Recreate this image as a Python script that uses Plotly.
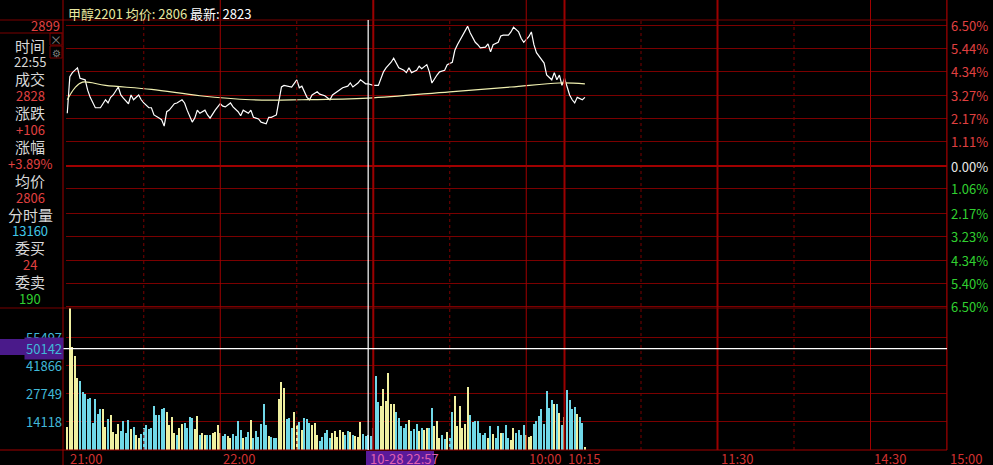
import numpy as np
import plotly.graph_objs as go

# --- data ---
# minutes since 21:00 on the trading clock (21:00-23:00, 9:00-10:15, 10:30-11:30, 13:30-15:00)
price_min = [0, 1, 2, 3, 4, 5, 7, 8, 9, 11, 13, 15, 16, 17, 18, 20, 21, 22, 24, 25, 26, 28, 29, 30,
             32, 33, 34, 36, 37, 38, 39, 40, 42, 43, 45, 46, 47, 49, 50, 51, 52, 54, 55, 56, 58, 60,
             61, 62, 64, 65, 67, 68, 69, 71, 72, 73, 75, 76, 78, 79, 80, 82, 83, 84, 85, 87, 88, 90,
             91, 92, 94, 95, 96, 98, 99, 101, 102, 103, 104, 107, 108, 110, 111, 112, 114, 115, 117,
             118, 120, 122, 124, 125, 127, 128, 129, 130, 132, 133, 134, 135, 137, 138, 139, 141,
             142, 143, 145, 146, 148, 149, 151, 152, 153, 154, 155, 156, 157, 158, 159, 160, 161,
             162, 164, 165, 166, 167, 169, 170, 171, 173, 174, 175, 177, 178, 179, 181, 182, 183,
             184, 186, 187, 188, 190, 191, 192, 193, 194, 195, 197, 198, 199, 200, 202, 203]
price = [2783, 2829, 2834, 2837, 2840, 2827, 2825, 2812, 2803, 2790, 2790, 2800, 2796, 2803, 2806,
         2816, 2806, 2802, 2795, 2806, 2800, 2806, 2800, 2796, 2790, 2790, 2781, 2777, 2775, 2767,
         2785, 2787, 2795, 2796, 2800, 2796, 2787, 2772, 2777, 2787, 2783, 2787, 2781, 2777, 2787,
         2795, 2792, 2791, 2796, 2791, 2785, 2780, 2787, 2783, 2787, 2778, 2776, 2772, 2770, 2778,
         2778, 2781, 2800, 2816, 2818, 2817, 2816, 2825, 2815, 2817, 2803, 2800, 2806, 2810, 2807,
         2805, 2802, 2800, 2806, 2812, 2815, 2817, 2821, 2816, 2821, 2825, 2820, 2820, 2818, 2818,
         2835, 2840, 2847, 2852, 2846, 2840, 2837, 2834, 2840, 2834, 2837, 2842, 2839, 2844, 2835,
         2821, 2831, 2835, 2837, 2844, 2847, 2862, 2869, 2875, 2881, 2887, 2892, 2884, 2877, 2872,
         2869, 2865, 2866, 2870, 2860, 2869, 2872, 2880, 2881, 2881, 2885, 2891, 2885, 2877, 2872,
         2879, 2885, 2869, 2859, 2850, 2846, 2831, 2825, 2834, 2825, 2831, 2818, 2827, 2806, 2800,
         2796, 2803, 2800, 2803]

avg_min = [0, 3, 6, 15, 33, 52, 72, 92, 118, 150, 174, 193, 203]
avg_price = [2800, 2815, 2822, 2818, 2813, 2805, 2800, 2800, 2802, 2810, 2816, 2821, 2820]

volume = [11400, 70300, 51000, 46500, 35600, 34000, 28700, 27700, 25200, 25700, 13400, 25200, 17800,
          20300, 20300, 11400, 15300, 17300, 8900, 7900, 12900, 9400, 14400, 8400, 14900, 10400,
          11400, 7400, 5900, 7900, 10900, 12400, 10400, 10900, 21800, 17300, 17300, 20300, 20800,
          18800, 12400, 16300, 8400, 7400, 10900, 12900, 13400, 10900, 16300, 15800, 10400, 16800,
          7400, 8400, 7400, 7400, 7400, 8400, 8900, 12400, 8400, 6900, 7900, 6900, 5900, 7900, 6900,
          14400, 9900, 5900, 6400, 8900, 14900, 5900, 9400, 6400, 12900, 22800, 12400, 6900, 6400,
          5900, 5900, 25200, 33700, 30700, 15300, 15800, 10900, 18800, 12400, 13900, 9900, 15800,
          15300, 13400, 12400, 13400, 7400, 4500, 6400, 8400, 9900,
          5900, 8400, 9400, 6400, 9900, 8900, 7400, 9400, 8900, 7400, 6900, 6400, 13900, 7900, 6900,
          7400, 6900, 10900, 36600, 23800, 21800, 30200, 24300, 38100, 22800, 22800, 18800, 15800,
          11900, 10900, 12900, 14900, 9400, 10400, 12900, 9400, 10900, 9900, 10900, 10900, 20800,
          11900, 14400, 5900, 7400, 5400, 8900, 5900, 18800, 26700, 11900, 21800, 10900, 12900,
          31200, 17300, 13900, 14400, 14400, 8400, 7400, 8400, 5900, 11900, 7900, 5900, 11900, 8400,
          8400, 12400, 5900, 4900, 10900, 8400, 9900, 7400, 12400, 7400, 6400, 6900, 12900, 14400,
          16800, 20300, 12900, 29200, 20800, 24800, 22800, 22800, 18300, 12400, 16300, 29700, 24800,
          20300, 21300, 17800, 16300, 13400, 1500]

prev_settle = 2717
pct_levels = [6.50, 5.44, 4.34, 3.27, 2.17, 1.11, 0.00, -1.06, -2.17, -3.23, -4.34, -5.40, -6.50]
vol_levels = [14118, 27749, 41866, 55497]
time_ticks = [0, 60, 180, 195, 255, 315, 345]
time_labels = ["21:00", "22:00", "10:00", "10:15", "11:30", "14:30", "15:00"]
solid_lines = [60, 120, 180, 195, 255, 315, 345]
thick_lines = [120, 195, 255]
dotted_lines = [30, 90, 150, 225, 285]
cross_min = 118
cross_vol = 50142

info_labels = ["时间", "22:55", "成交", "2828", "涨跌", "+106", "涨幅", "+3.89%",
               "均价", "2806", "分时量", "13160", "委买", "24", "委卖", "190"]
info_colors = ["#d8d8d8", "#d8d8d8", "#d8d8d8", "#e04040", "#d8d8d8", "#e04040", "#d8d8d8", "#e04040",
               "#d8d8d8", "#e04040", "#d8d8d8", "#40c8e8", "#d8d8d8", "#e04040", "#d8d8d8", "#30d030"]

# --- pixel helpers for the fixed 993x465 page ---
L, R, T, B = 66, 947, 20, 450
def px(x):
    return (x - L) / (R - L)
def py(y):
    return (B - y) / (B - T)

FONT = "Noto Sans CJK SC"
GRID = "#7a0000"

# bar colours: yellow when price clearly up that minute, cyan otherwise
mins = np.arange(len(volume))
p_at = np.interp(mins, price_min, price)
bar_colors = ["#f0f0a0" if i == 0 or p_at[i] > p_at[i - 1] + 1.5 else "#70d8e8" for i in mins]

fig = go.Figure()
fig.add_trace(go.Scatter(x=price_min, y=price, mode="lines", line=dict(color="white", width=1.2),
                         xaxis="x", yaxis="y", hoverinfo="skip"))
fig.add_trace(go.Scatter(x=avg_min, y=avg_price, mode="lines", line=dict(color="#f0f0b0", width=1.2, shape="spline"),
                         xaxis="x", yaxis="y", hoverinfo="skip"))
fig.add_trace(go.Bar(x=mins, y=volume, marker_color=bar_colors, marker_line_width=0, width=0.45,
                     xaxis="x2", yaxis="y2", hoverinfo="skip"))

price_grid = [prev_settle * (1 + p / 100) for p in pct_levels]
vol_top = (B - 308) * 495

fig.update_layout(
    width=993, height=465, margin=dict(l=L, r=993 - R, t=T, b=465 - B),
    paper_bgcolor="black", plot_bgcolor="black", showlegend=False,
    font=dict(family=FONT, color="#d8d8d8", size=13),
    xaxis=dict(range=[-0.5, 345], showgrid=False, showticklabels=False, zeroline=False, domain=[0, 1]),
    xaxis2=dict(range=[-0.5, 345], showgrid=False, showticklabels=False, zeroline=False, anchor="y2",
                matches="x"),
    yaxis=dict(range=[prev_settle - 142 * 1.253, prev_settle + 146 * 1.253], domain=[py(308), 1],
               tickvals=price_grid, showticklabels=False, gridcolor=GRID, zeroline=False),
    yaxis2=dict(range=[0, vol_top], domain=[0, py(308)], tickvals=vol_levels, showticklabels=False,
                gridcolor=GRID, zeroline=False),
    bargap=0,
)

shapes = []
for m in solid_lines:
    w = 2 if m in thick_lines else 1
    c = "#9a0000" if m in thick_lines else "#a00000"
    shapes.append(dict(type="line", xref="x", yref="paper", x0=m, x1=m, y0=0, y1=py(0), line=dict(color=c, width=w)))
for m in dotted_lines:
    shapes.append(dict(type="line", xref="x", yref="paper", x0=m, x1=m, y0=0, y1=1, line=dict(color=GRID, width=1, dash="dot")))
# zero line, panel divider, frame
shapes.append(dict(type="line", xref="paper", yref="y", x0=0, x1=1, y0=prev_settle, y1=prev_settle,
                   line=dict(color="#a00000", width=2)))
shapes.append(dict(type="line", xref="paper", yref="paper", x0=px(0), x1=1, y0=py(308), y1=py(308), line=dict(color=GRID, width=1)))
shapes.append(dict(type="line", xref="paper", yref="paper", x0=px(0), x1=1, y0=py(20), y1=py(20), line=dict(color=GRID, width=1)))
shapes.append(dict(type="line", xref="paper", yref="paper", x0=1, x1=1, y0=0, y1=py(0), line=dict(color="#a00000", width=1)))
shapes.append(dict(type="line", xref="paper", yref="paper", x0=px(0), x1=1, y0=0, y1=0, line=dict(color="#a00000", width=1)))
shapes.append(dict(type="line", xref="paper", yref="paper", x0=px(63), x1=px(63), y0=py(465), y1=py(0), line=dict(color="#a00000", width=1)))
shapes.append(dict(type="line", xref="paper", yref="paper", x0=px(0), x1=px(63), y0=py(33), y1=py(33), line=dict(color=GRID, width=1)))
shapes.append(dict(type="rect", xref="paper", yref="paper", x0=px(50), x1=px(62), y0=py(45), y1=py(33), line=dict(color=GRID, width=1)))
shapes.append(dict(type="rect", xref="paper", yref="paper", x0=px(50), x1=px(62), y0=py(58), y1=py(46), line=dict(color=GRID, width=1)))
# crosshair
shapes.append(dict(type="line", xref="x", yref="paper", x0=cross_min, x1=cross_min, y0=0, y1=py(20), line=dict(color="white", width=1.2)))
shapes.append(dict(type="line", xref="paper", yref="y2", x0=px(63), x1=1, y0=cross_vol, y1=cross_vol, line=dict(color="white", width=1.2)))
shapes.append(dict(type="rect", xref="paper", yref="paper", x0=px(0), x1=px(63), y0=py(355), y1=py(339),
                   fillcolor="#4a1a8a", line=dict(width=0), layer="below"))
shapes.append(dict(type="rect", xref="paper", yref="paper", x0=px(366), x1=px(434), y0=py(465), y1=py(451),
                   fillcolor="#5a1a9a", line=dict(width=0)))
fig.update_layout(shapes=shapes)

ann = []
def text(x, y, s, color, anchor="left", size=13):
    ann.append(dict(xref="paper", yref="paper", x=px(x), y=py(y), text=s, showarrow=False, xanchor=anchor,
                    yanchor="middle", font=dict(color=color, size=size, family=FONT)))

text(66, 13, "<span style='color:#e8e8a0'>甲醇2201 均价: 2806</span> 最新: 2823", "white", size=13)
text(62, 26, "2899", "#e04040", anchor="right", size=13)
text(56, 39, "×", "#808080", anchor="center", size=12)
text(56, 52, "⚙", "#808080", anchor="center", size=10)
for i, (s, c) in enumerate(zip(info_labels, info_colors)):
    text(30, 45 + i * 16.9, s, c, anchor="center", size=15 if i % 2 == 0 else 13)
for p, gv in zip(pct_levels, price_grid):
    c = "#e04040" if p > 0 else ("#e8e8e8" if p == 0 else "#30d030")
    ann.append(dict(xref="paper", yref="y", x=px(949), y=gv, text=f"{abs(p):.2f}%", showarrow=False,
                    xanchor="left", yanchor="middle", font=dict(color=c, size=13, family=FONT)))
for v in vol_levels:
    ann.append(dict(xref="paper", yref="y2", x=px(64), y=v, text=str(v), showarrow=False,
                    xanchor="right", yanchor="middle", font=dict(color="#40b8d8", size=13, family=FONT)))
ann.append(dict(xref="paper", yref="y2", x=px(64), y=cross_vol, text=str(cross_vol), showarrow=False,
                xanchor="right", yanchor="middle", bgcolor="#4a1a8a",
                font=dict(color="#40b8d8", size=13, family=FONT)))
for m, s in zip(time_ticks, time_labels):
    ann.append(dict(xref="x", yref="paper", x=m, y=py(458), text=s, showarrow=False, xanchor="left",
                    xshift=1, yanchor="middle", font=dict(color="#d03030", size=13, family=FONT)))
text(368, 458, "10-28 22:57", "#e060b0", size=13)
fig.update_layout(annotations=ann)

fig.write_html("out.html", config={"displayModeBar": False}, post_script="document.body.style.margin='0';")
